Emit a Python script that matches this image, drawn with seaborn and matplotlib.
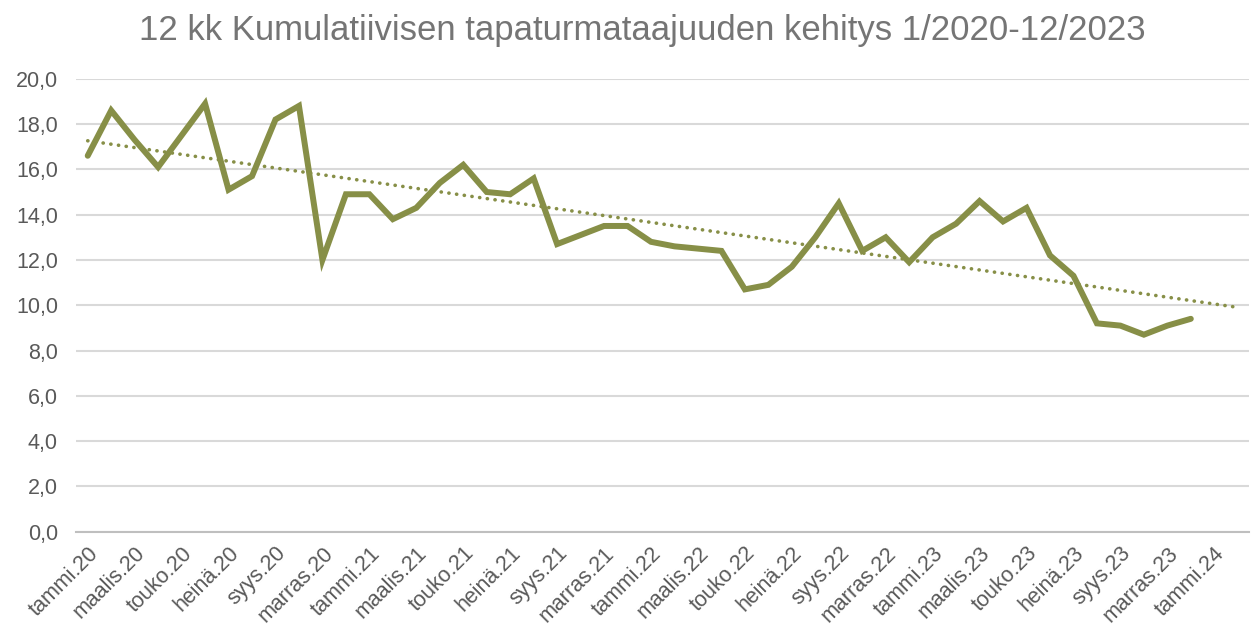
import numpy as np
import pandas as pd
import seaborn as sns
import matplotlib.pyplot as plt

# month labels, Jan 2020 .. Feb 2024 (50 categories, data for 48)
kuukaudet = ['tammi', 'helmi', 'maalis', 'huhti', 'touko', 'kesä',
             'heinä', 'elo', 'syys', 'loka', 'marras', 'joulu']
vuodet = ['20', '21', '22', '23', '24']
kategoriat = [f'{k}.{v}' for v in vuodet for k in kuukaudet][:50]

taajuus = [16.6, 18.6, 17.3, 16.1, 17.5, 18.9, 15.1, 15.7, 18.2, 18.8, 12.0, 14.9,
           14.9, 13.8, 14.3, 15.4, 16.2, 15.0, 14.9, 15.6, 12.7, 13.1, 13.5, 13.5,
           12.8, 12.6, 12.5, 12.4, 10.7, 10.9, 11.7, 13.0, 14.5, 12.4, 13.0, 11.9,
           13.0, 13.6, 14.6, 13.7, 14.3, 12.2, 11.3, 9.2, 9.1, 8.7, 9.1, 9.4]

df = pd.DataFrame({'i': np.arange(len(taajuus)), 'taajuus': taajuus})

sns.set_style('white')
plt.rcParams['font.family'] = ['Liberation Sans', 'DejaVu Sans']

vari = '#878F47'
harmaa = '#595959'

fig = plt.figure(figsize=(12.54, 6.3), dpi=100)
ax = fig.add_axes([0.0606, 0.156, 0.9358, 0.719])

# gridlines
ax.set_ylim(0, 20)
ax.set_yticks(np.arange(0, 20.1, 2))
ax.yaxis.grid(True, color='#D9D9D9', linewidth=1.5)
ax.set_axisbelow(True)

sns.lineplot(data=df, x='i', y='taajuus', color=vari, linewidth=4.3,
             ax=ax, solid_joinstyle='miter')

# linear trendline with 2 periods forward forecast
k, b = np.polyfit(df['i'], df['taajuus'], 1)
xt = np.array([0, len(taajuus) + 1])
ax.plot(xt, k * xt + b, color=vari, linewidth=2.6,
        linestyle=(0, (0.05, 2.1)), dash_capstyle='round')

ax.set_xlim(-0.5, 49.5)
ax.set_xticks(np.arange(0, 50, 2))
ax.set_xticklabels(kategoriat[::2], rotation=45, ha='right',
                   rotation_mode='anchor', color=harmaa, fontsize=15.5)
ax.set_xticks(np.arange(-0.5, 50, 2), minor=True)
ax.tick_params(axis='x', which='major', length=0, pad=8)
ax.tick_params(axis='x', which='minor', length=5, color='#BFBFBF', width=1.2)
ax.set_yticklabels([f'{v:.1f}'.replace('.', ',') for v in np.arange(0, 20.1, 2)],
                   color=harmaa, fontsize=15.5)
ax.tick_params(axis='y', length=0, pad=13)

for s in ['left', 'right', 'top']:
    ax.spines[s].set_visible(False)
ax.spines['bottom'].set_color('#BFBFBF')
ax.spines['bottom'].set_linewidth(1.5)

ax.set_xlabel('')
ax.set_ylabel('')
fig.text(0.512, 0.952, '12 kk Kumulatiivisen tapaturmataajuuden kehitys 1/2020-12/2023',
         ha='center', va='center', color='#757575', fontsize=25)

fig.savefig('out.png', dpi=100, facecolor='white')
